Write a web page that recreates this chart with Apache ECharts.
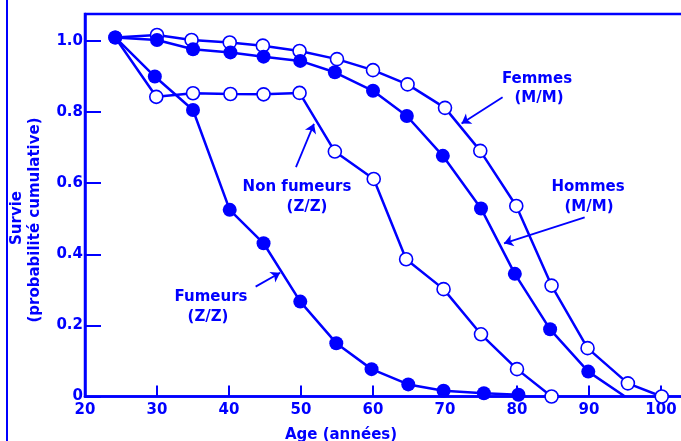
<!DOCTYPE html>
<html>
<head>
<meta charset="utf-8">
<script src="https://cdn.jsdelivr.net/npm/echarts@6/dist/echarts.min.js"></script>
<style>html,body{margin:0;padding:0;background:#fff;}#c{width:681px;height:441px;}</style>
</head>
<body>
<div id="c"></div>
<script>
// ---- data ----
const xTicks = [20, 30, 40, 50, 60, 70, 80, 90, 100];
const yTicks = [0, 0.2, 0.4, 0.6, 0.8, 1.0];

const femmesAge  = [24.2, 30.0, 34.8, 40.1, 44.7, 49.8, 55.0, 60.0, 64.8, 70.0, 74.9, 79.9, 84.8, 89.8, 95.4, 100.1];
const femmesSurv = [1.01, 1.017, 1.003, 0.996, 0.987, 0.972, 0.949, 0.918, 0.878, 0.812, 0.691, 0.536, 0.312, 0.136, 0.037, 0.0];

const hommesAge  = [24.2, 30.0, 35.0, 40.2, 44.8, 49.9, 54.7, 60.0, 64.7, 69.7, 75.0, 79.7, 84.6, 89.9, 95.0];
const hommesSurv = [1.01, 1.003, 0.977, 0.968, 0.956, 0.944, 0.912, 0.860, 0.789, 0.677, 0.529, 0.345, 0.189, 0.070, 0.0];

const nonFumAge  = [24.2, 29.9, 35.0, 40.2, 44.8, 49.8, 54.7, 60.1, 64.6, 69.8, 75.0, 80.0, 84.8];
const nonFumSurv = [1.01, 0.843, 0.853, 0.851, 0.850, 0.854, 0.689, 0.612, 0.386, 0.302, 0.175, 0.077, 0.0];

const fumAge  = [24.2, 29.7, 35.0, 40.1, 44.8, 49.9, 54.9, 59.8, 64.9, 69.8, 75.4, 80.2];
const fumSurv = [1.01, 0.900, 0.806, 0.525, 0.431, 0.267, 0.150, 0.077, 0.034, 0.016, 0.009, 0.005];

// annotation arrows: [fromAge, fromSurv, toAge, toSurv]
const arrowFemmes = [78.0, 0.842, 72.3, 0.768];
const arrowHommes = [89.4, 0.504, 78.2, 0.431];
const arrowNonFum = [49.3, 0.645, 51.8, 0.767];
const arrowFum    = [43.7, 0.309, 47.1, 0.348];

// ---- chart ----
const BLUE = '#0000ff';
const FONT = 'DejaVu Sans';
const chart = echarts.init(document.getElementById('c'), null, {renderer: 'canvas'});

function pairs(xs, ys) { return xs.map((x, i) => [x, ys[i]]); }

function arrowLine(a) {
  return {
    silent: true,
    symbol: ['none', 'arrow'],
    symbolSize: [0, 9],
    label: {show: false},
    lineStyle: {color: BLUE, width: 1.8, type: 'solid'},
    emphasis: {disabled: true},
    data: [[{coord: [a[0], a[1]], symbol: 'none'}, {coord: [a[2], a[3]], symbol: 'arrow', symbolSize: 9}]]
  };
}

function openSeries(name, xs, ys, arrow) {
  const d = pairs(xs, ys).map((p, i) => i === 0 ? {value: p, symbol: 'none'} : p);
  return {
    name, type: 'line', data: d, clip: false,
    symbol: 'circle', symbolSize: 13,
    itemStyle: {color: '#ffffff', borderColor: BLUE, borderWidth: 1.6},
    lineStyle: {color: BLUE, width: 2.5},
    emphasis: {disabled: true},
    markLine: arrowLine(arrow)
  };
}
function filledSeries(name, xs, ys, arrow, lastNoSymbol) {
  const d = pairs(xs, ys).map((p, i) => (lastNoSymbol && i === xs.length - 1) ? {value: p, symbol: 'none'} : p);
  return {
    name, type: 'line', data: d, clip: false,
    symbol: 'circle', symbolSize: 14,
    itemStyle: {color: BLUE, borderWidth: 0},
    lineStyle: {color: BLUE, width: 2.5},
    emphasis: {disabled: true},
    markLine: arrowLine(arrow)
  };
}

const txt = (text, x, y) => ({
  type: 'text', x, y,
  style: {text, fill: BLUE, font: 'bold 15px "' + FONT + '"', textAlign: 'center', textVerticalAlign: 'middle'}
});

chart.setOption({
  animation: false,
  backgroundColor: '#ffffff',
  grid: {left: 85, right: -16, top: 14, bottom: 44.5, containLabel: false, outerBoundsMode: 'none',
         show: true, borderColor: BLUE, borderWidth: 2.5, backgroundColor: 'transparent'},
  xAxis: {
    type: 'value', min: 20, max: 105, interval: 10,
    axisLine: {show: true, lineStyle: {color: BLUE, width: 2.5}},
    axisTick: {show: true, inside: true, length: 11, lineStyle: {color: BLUE, width: 2}},
    splitLine: {show: false},
    axisLabel: {
      color: BLUE, fontFamily: FONT, fontWeight: 'bold', fontSize: 15, margin: 6, showMaxLabel: false,
      formatter: v => xTicks.indexOf(Math.round(v)) >= 0 && Math.abs(v - Math.round(v)) < 1e-6 ? String(Math.round(v)) : ''
    }
  },
  yAxis: {
    type: 'value', min: 0, max: 1.076, interval: 0.2,
    axisLine: {show: true, lineStyle: {color: BLUE, width: 2.5}},
    axisTick: {show: true, inside: true, length: 16, lineStyle: {color: BLUE, width: 2}},
    splitLine: {show: false},
    axisLabel: {
      color: BLUE, fontFamily: FONT, fontWeight: 'bold', fontSize: 15, margin: 2,
      formatter: v => {
        const k = yTicks.findIndex(t => Math.abs(t - v) < 1e-6);
        if (k < 0) return '';
        return yTicks[k] === 0 ? '0' : yTicks[k].toFixed(1);
      }
    }
  },
  series: [
    openSeries('Femmes (M/M)', femmesAge, femmesSurv, arrowFemmes),
    openSeries('Non fumeurs (Z/Z)', nonFumAge, nonFumSurv, arrowNonFum),
    filledSeries('Hommes (M/M)', hommesAge, hommesSurv, arrowHommes, true),
    filledSeries('Fumeurs (Z/Z)', fumAge, fumSurv, arrowFum, false)
  ],
  graphic: [
    {type: 'line', shape: {x1: 7, y1: 0, x2: 7, y2: 441}, style: {stroke: BLUE, lineWidth: 2}},
    txt('Femmes', 537, 79),
    txt('(M/M)', 539, 98),
    txt('Hommes', 588, 187),
    txt('(M/M)', 589, 207),
    txt('Non fumeurs', 297, 187),
    txt('(Z/Z)', 307, 207),
    txt('Fumeurs', 211, 297),
    txt('(Z/Z)', 208, 317),
    txt('Age (années)', 341, 435),
    {type: 'text', x: 17, y: 218, rotation: Math.PI / 2,
     style: {text: 'Survie', fill: BLUE, font: 'bold 15px "' + FONT + '"', textAlign: 'center', textVerticalAlign: 'middle'}},
    {type: 'text', x: 35, y: 220, rotation: Math.PI / 2,
     style: {text: '(probabilité cumulative)', fill: BLUE, font: 'bold 15px "' + FONT + '"', textAlign: 'center', textVerticalAlign: 'middle'}}
  ]
});
</script>
</body>
</html>
